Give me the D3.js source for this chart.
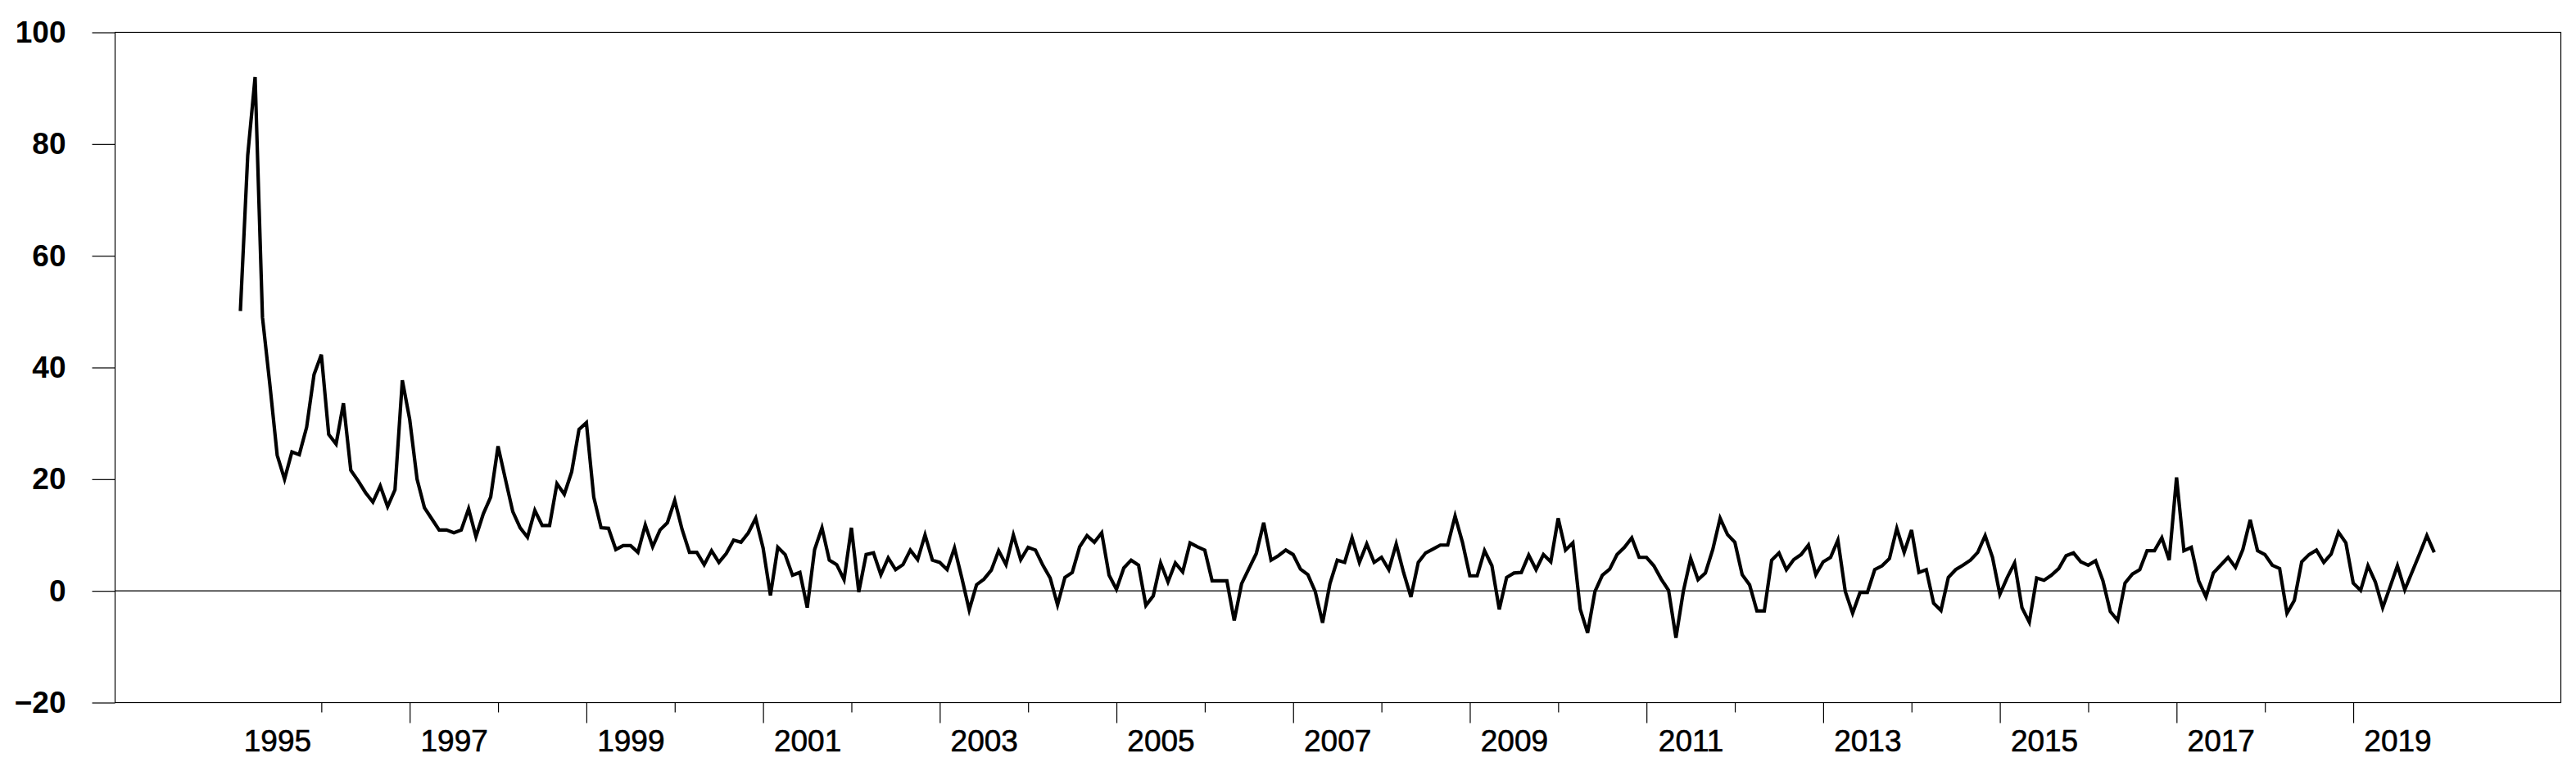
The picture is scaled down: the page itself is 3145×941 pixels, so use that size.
<!DOCTYPE html>
<html>
<head>
<meta charset="utf-8">
<script src="https://cdn.jsdelivr.net/npm/d3@7"></script>
<style>
  html, body { margin: 0; padding: 0; background: #ffffff; }
  svg { display: block; }
</style>
</head>
<body>
<svg id="chart" width="3145" height="941"></svg>
<script>
// ---- data (monthly, first observation 1995M02) ----
const startYear = 1995;
const startMonth = 2; // February
const values1995 = [50.1, 78, 92, 49, 37, 24.3, 20.0, 24.9, 24.4, 29.3, 38.7];
const values1996 = [42.3, 28.0, 26.3, 33.6, 21.6, 19.7, 17.6, 15.9, 18.8, 15.1, 18.1, 37.7];
const values1997 = [30.7, 20.0, 14.9, 12.9, 10.9, 10.9, 10.4, 10.9, 14.7, 9.7, 13.8, 16.8];
const values1998 = [25.9, 20.0, 14.2, 11.3, 9.6, 14.4, 11.7, 11.7, 19.2, 17.3, 21.3, 28.9];
const values1999 = [30.1, 16.8, 11.3, 11.2, 7.4, 8.1, 8.1, 6.9, 11.8, 7.9, 10.9, 12.2];
const values2000 = [16.2, 11.0, 6.9, 6.9, 4.7, 7.2, 5.1, 6.7, 9.1, 8.7, 10.4, 13.0];
const values2001 = [7.7, -0.8, 7.8, 6.5, 2.8, 3.3, -3.0, 7.4, 11.3, 5.5, 4.7, 2.0];
const values2002 = [11.3, -0.2, 6.5, 6.8, 2.9, 5.9, 3.8, 4.7, 7.3, 5.6, 10.0, 5.5];
const values2003 = [5.1, 3.8, 7.7, 2.3, -3.4, 1.1, 2.1, 3.7, 7.2, 4.7, 10.0, 5.6];
const values2004 = [7.8, 7.3, 4.6, 2.3, -2.5, 2.4, 3.3, 7.9, 9.9, 8.7, 10.4, 2.8];
const values2005 = [0.3, 4.1, 5.5, 4.6, -2.6, -0.9, 5.0, 1.6, 5.0, 3.4, 8.6, 7.9];
const values2006 = [7.3, 1.8, 1.8, 1.8, -5.3, 1.3, 4.0, 6.7, 12.2, 5.5, 6.3, 7.3];
const values2007 = [6.5, 3.9, 2.9, -0.1, -5.7, 1.3, 5.5, 5.1, 9.5, 5.1, 8.4, 5.1];
const values2008 = [6.0, 3.8, 8.4, 3.3, -1.1, 5.1, 6.8, 7.5, 8.2, 8.2, 13.4, 8.7];
const values2009 = [2.7, 2.7, 7.2, 4.5, -3.3, 2.4, 3.2, 3.3, 6.4, 3.8, 6.5, 5.2];
const values2010 = [13.0, 7.3, 8.6, -3.3, -7.5, -0.1, 2.8, 3.9, 6.5, 7.8, 9.5, 6.0];
const values2011 = [6.0, 4.5, 2.1, 0.1, -8.4, -0.1, 5.8, 2.0, 3.2, 7.4, 13.0, 10.1];
const values2012 = [8.7, 2.9, 1.1, -3.6, -3.6, 5.5, 6.8, 3.8, 5.6, 6.5, 8.2, 2.9];
const values2013 = [5.2, 6.0, 9.1, -0.1, -4.0, -0.3, -0.3, 3.8, 4.5, 5.8, 11.2, 6.9];
const values2014 = [10.9, 3.3, 3.8, -2.2, -3.5, 2.4, 3.8, 4.6, 5.5, 6.9, 9.9, 6.0];
const values2015 = [-0.6, 2.4, 5.0, -3.0, -5.6, 2.3, 1.9, 2.8, 4.0, 6.3, 6.8, 5.2];
const values2016 = [4.6, 5.4, 1.8, -3.7, -5.3, 1.4, 3.0, 3.8, 7.2, 7.2, 9.5, 5.5];
const values2017 = [20.3, 7.2, 7.8, 1.8, -1.1, 3.2, 4.6, 6.0, 4.2, 7.4, 12.7, 7.2];
const values2018 = [6.5, 4.6, 4.0, -4.0, -1.7, 5.2, 6.5, 7.3, 5.1, 6.6, 10.5, 8.6];
const values2019 = [1.4, 0.1, 4.5, 1.6, -3.0, 0.7, 4.5, 0.2, 3.4, 6.6, 9.9, 6.9];

const yTicks = [-20, 0, 20, 40, 60, 80, 100];
const xLabelYears = [1995, 1997, 1999, 2001, 2003, 2005, 2007, 2009, 2011, 2013, 2015, 2017, 2019];
const xTickYears = [1996, 1997, 1998, 1999, 2000, 2001, 2002, 2003, 2004, 2005, 2006, 2007,
                    2008, 2009, 2010, 2011, 2012, 2013, 2014, 2015, 2016, 2017, 2018, 2019];

const values = [].concat(values1995, values1996, values1997, values1998, values1999, values2000,
  values2001, values2002, values2003, values2004, values2005, values2006, values2007, values2008,
  values2009, values2010, values2011, values2012, values2013, values2014, values2015, values2016,
  values2017, values2018, values2019);

const series = values.map((v, i) => {
  const m = startMonth - 1 + i;
  return { t: startYear + Math.floor(m / 12) + (m % 12) / 12, v: v };
});

// ---- layout ----
const plotLeft = 140.5, plotRight = 3126.5, plotTop = 39.5, plotBottom = 857.5;
const svg = d3.select("#chart");
svg.append("rect").attr("width", 3145).attr("height", 941).attr("fill", "#ffffff");

const x = d3.scaleLinear().domain([1993.665, 2021.35]).range([plotLeft, plotRight]);
const y = d3.scaleLinear().domain([-20, 100]).range([plotBottom, plotTop]);

const font = "'Liberation Sans', Arial, Helvetica, sans-serif";

// y axis
const yAxis = svg.append("g").attr("transform", `translate(${plotLeft},0)`)
  .call(d3.axisLeft(y).tickValues(yTicks).tickSize(28).tickPadding(32).tickFormat(d3.format("d")));
yAxis.select(".domain").remove();
yAxis.selectAll("line").attr("stroke", "#000").attr("stroke-width", 1.2);
yAxis.selectAll("text").attr("font-family", font).attr("font-size", 37).attr("font-weight", "bold").attr("fill", "#000");

// x ticks: long at odd years, short at even years
const longTicks = xTickYears.filter(d => d % 2 === 1);
const shortTicks = xTickYears.filter(d => d % 2 === 0);
const xLong = svg.append("g").attr("transform", `translate(0,${plotBottom})`)
  .call(d3.axisBottom(x).tickValues(longTicks).tickSize(25).tickFormat(""));
const xShort = svg.append("g").attr("transform", `translate(0,${plotBottom})`)
  .call(d3.axisBottom(x).tickValues(shortTicks).tickSize(12).tickFormat(""));
[xLong, xShort].forEach(g => {
  g.select(".domain").remove();
  g.selectAll("line").attr("stroke", "#000").attr("stroke-width", 1.2);
});
// x labels, centred in the labelled year
const xLab = svg.append("g").attr("transform", `translate(0,${plotBottom})`)
  .call(d3.axisBottom(x).tickValues(xLabelYears.map(d => d + 0.5)).tickSize(0).tickPadding(33)
    .tickFormat(d => String(Math.floor(d))));
xLab.select(".domain").remove();
xLab.selectAll("text").attr("font-family", font).attr("font-size", 37).attr("fill", "#000")
  .attr("stroke", "#000").attr("stroke-width", 0.6);

// frame
svg.append("rect").attr("x", plotLeft).attr("y", plotTop).attr("width", plotRight - plotLeft).attr("height", plotBottom - plotTop)
  .attr("fill", "none").attr("stroke", "#000").attr("stroke-width", 1.2);

// zero line
svg.append("line").attr("x1", plotLeft).attr("x2", plotRight).attr("y1", y(0)).attr("y2", y(0))
  .attr("stroke", "#000").attr("stroke-width", 1.2);

// series
const line = d3.line().x(d => x(d.t)).y(d => y(d.v));
svg.append("path").datum(series).attr("d", line)
  .attr("fill", "none").attr("stroke", "#000").attr("stroke-width", 4.2)
  .attr("stroke-linejoin", "miter").attr("stroke-miterlimit", 4);
</script>
</body>
</html>
